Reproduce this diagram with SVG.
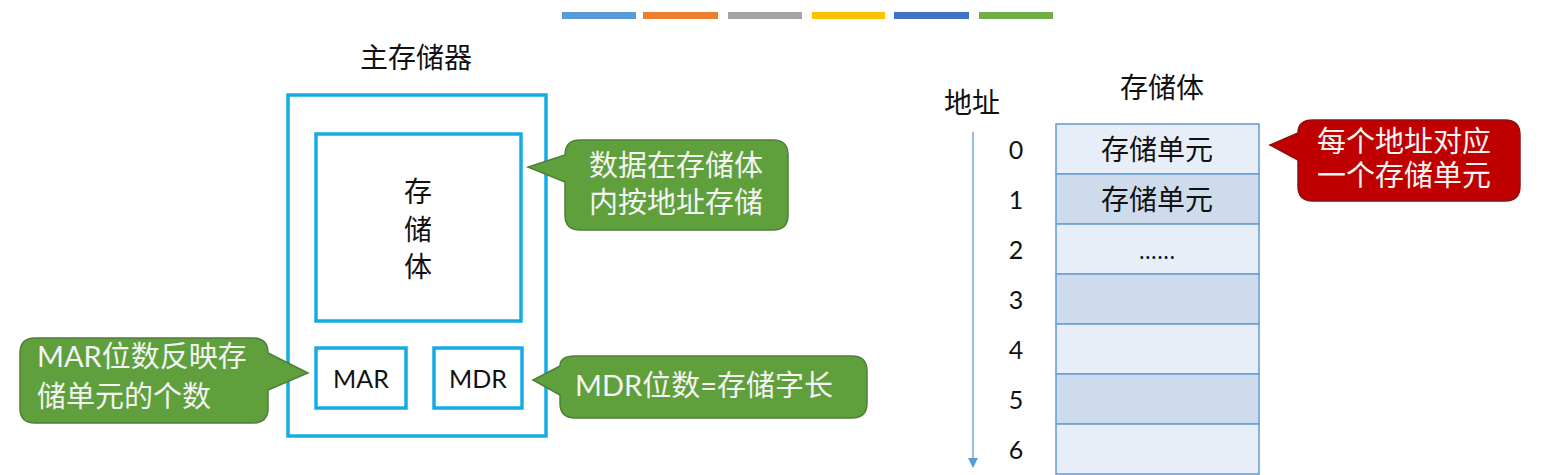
<svg xmlns="http://www.w3.org/2000/svg" width="1546" height="475" viewBox="0 0 1546 475">
<style>
text{font-family:"Noto Sans CJK SC","Noto Sans",sans-serif;fill:#111}
.lat{font-family:"Lato","Noto Sans CJK SC",sans-serif}
.box{fill:none;stroke:#14ACE3;stroke-width:3.5}
.t28{font-size:28px}
.green{fill:#60A03C;stroke:#4E7F3A;stroke-width:1.5}
.red{fill:#C00000;stroke:#8A1010;stroke-width:1.5}
.wt{fill:#F4F4F4;font-size:29px}
.ls{font-family:"Liberation Sans","Noto Sans CJK SC",sans-serif}
.cellA{fill:#E8EEF7;stroke:#6A9FD6;stroke-width:1.6}
.cellB{fill:#CEDBEC;stroke:#6A9FD6;stroke-width:1.6}
.num{font-family:"Lato","Liberation Sans",sans-serif;font-size:25px;text-anchor:middle}
.mid{text-anchor:middle}
</style>
<defs>
<marker id="ah" markerWidth="10" markerHeight="10" refX="9" refY="5" orient="auto" markerUnits="userSpaceOnUse" viewBox="0 0 10 10">
<path d="M0,0 L10,5 L0,10 Z" fill="#5B9BD5"/>
</marker>
</defs>
<g id="bars">
<rect x="562" y="12" width="74" height="7" fill="#5B9BD5"/>
<rect x="643" y="12" width="75" height="7" fill="#ED7D31"/>
<rect x="728" y="12" width="74" height="7" fill="#A5A5A5"/>
<rect x="812" y="12" width="73" height="7" fill="#FFC000"/>
<rect x="894" y="12" width="75" height="7" fill="#4472C4"/>
<rect x="979" y="12" width="74" height="7" fill="#70AD47"/>
</g>
<g id="main-memory">
<text x="416" y="68" class="t28 mid">主存储器</text>
<rect class="box" x="288" y="95" width="258" height="341"/>
</g>
<g id="storage-body">
<rect class="box" x="316" y="134" width="205" height="187"/>
<text x="418" y="202" class="t28 mid">存</text>
<text x="418" y="240" class="t28 mid">储</text>
<text x="418" y="277" class="t28 mid">体</text>
</g>
<g id="mar">
<rect class="box" x="316" y="348" width="90" height="60"/>
<text x="361" y="388" class="lat mid" font-size="25">MAR</text>
</g>
<g id="mdr">
<rect class="box" x="434" y="348" width="88" height="60"/>
<text x="478" y="388" class="lat mid" font-size="25">MDR</text>
</g>
<g id="callout-storage">
<path class="green" d="M580,140 H773 Q788,140 788,155 V215 Q788,230 773,230 H580 Q565,230 565,215 V182 L528,167 L565,155 Q565,140 580,140 Z"/>
<text x="676" y="176" class="wt ls mid">数据在存储体</text>
<text x="676" y="213" class="wt ls mid">内按地址存储</text>
</g>
<g id="callout-mar">
<path class="green" d="M35,338 H253 Q268,338 268,353 L308,373 L268,390 V408 Q268,423 253,423 H35 Q20,423 20,408 V353 Q20,338 35,338 Z"/>
<text x="37" y="367" class="wt lat">MAR位数反映存</text>
<text x="37" y="407" class="wt">储单元的个数</text>
</g>
<g id="callout-mdr">
<path class="green" d="M575,356 H852 Q867,356 867,371 V403 Q867,418 852,418 H575 Q560,418 560,403 V395 L533,380 L560,366 Q560,356 575,356 Z"/>
<text x="575" y="396" class="wt lat">MDR位数=存储字长</text>
</g>
<g id="storage-table">
<text x="1162" y="98" class="t28 mid">存储体</text>
<rect class="cellA" x="1056" y="124" width="203" height="50"/>
<rect class="cellB" x="1056" y="174" width="203" height="50"/>
<rect class="cellA" x="1056" y="224" width="203" height="50"/>
<rect class="cellB" x="1056" y="274" width="203" height="50"/>
<rect class="cellA" x="1056" y="324" width="203" height="50"/>
<rect class="cellB" x="1056" y="374" width="203" height="50"/>
<rect class="cellA" x="1056" y="424" width="203" height="50"/>
<text x="1157" y="160" class="t28 mid">存储单元</text>
<text x="1157" y="210" class="t28 mid">存储单元</text>
<text x="1157" y="259" class="mid" font-family="Liberation Sans" font-size="22">......</text>
</g>
<g id="address">
<text x="972" y="113" class="t28 mid">地址</text>
<text x="1016" y="159" class="num">0</text>
<text x="1016" y="209" class="num">1</text>
<text x="1016" y="259" class="num">2</text>
<text x="1016" y="309" class="num">3</text>
<text x="1016" y="359" class="num">4</text>
<text x="1016" y="409" class="num">5</text>
<text x="1016" y="459" class="num">6</text>
</g>
<g id="connectors">
<line x1="973" y1="132" x2="973" y2="467" stroke="#5B9BD5" stroke-width="1.3" marker-end="url(#ah)"/>
</g>
<g id="callout-address">
<path class="red" d="M1313,120 H1505 Q1520,120 1520,135 V186 Q1520,201 1505,201 H1313 Q1298,201 1298,186 V160 L1270,145 L1298,133 Q1298,120 1313,120 Z"/>
<text x="1404" y="152" class="wt ls mid">每个地址对应</text>
<text x="1404" y="186" class="wt ls mid">一个存储单元</text>
</g>
</svg>
